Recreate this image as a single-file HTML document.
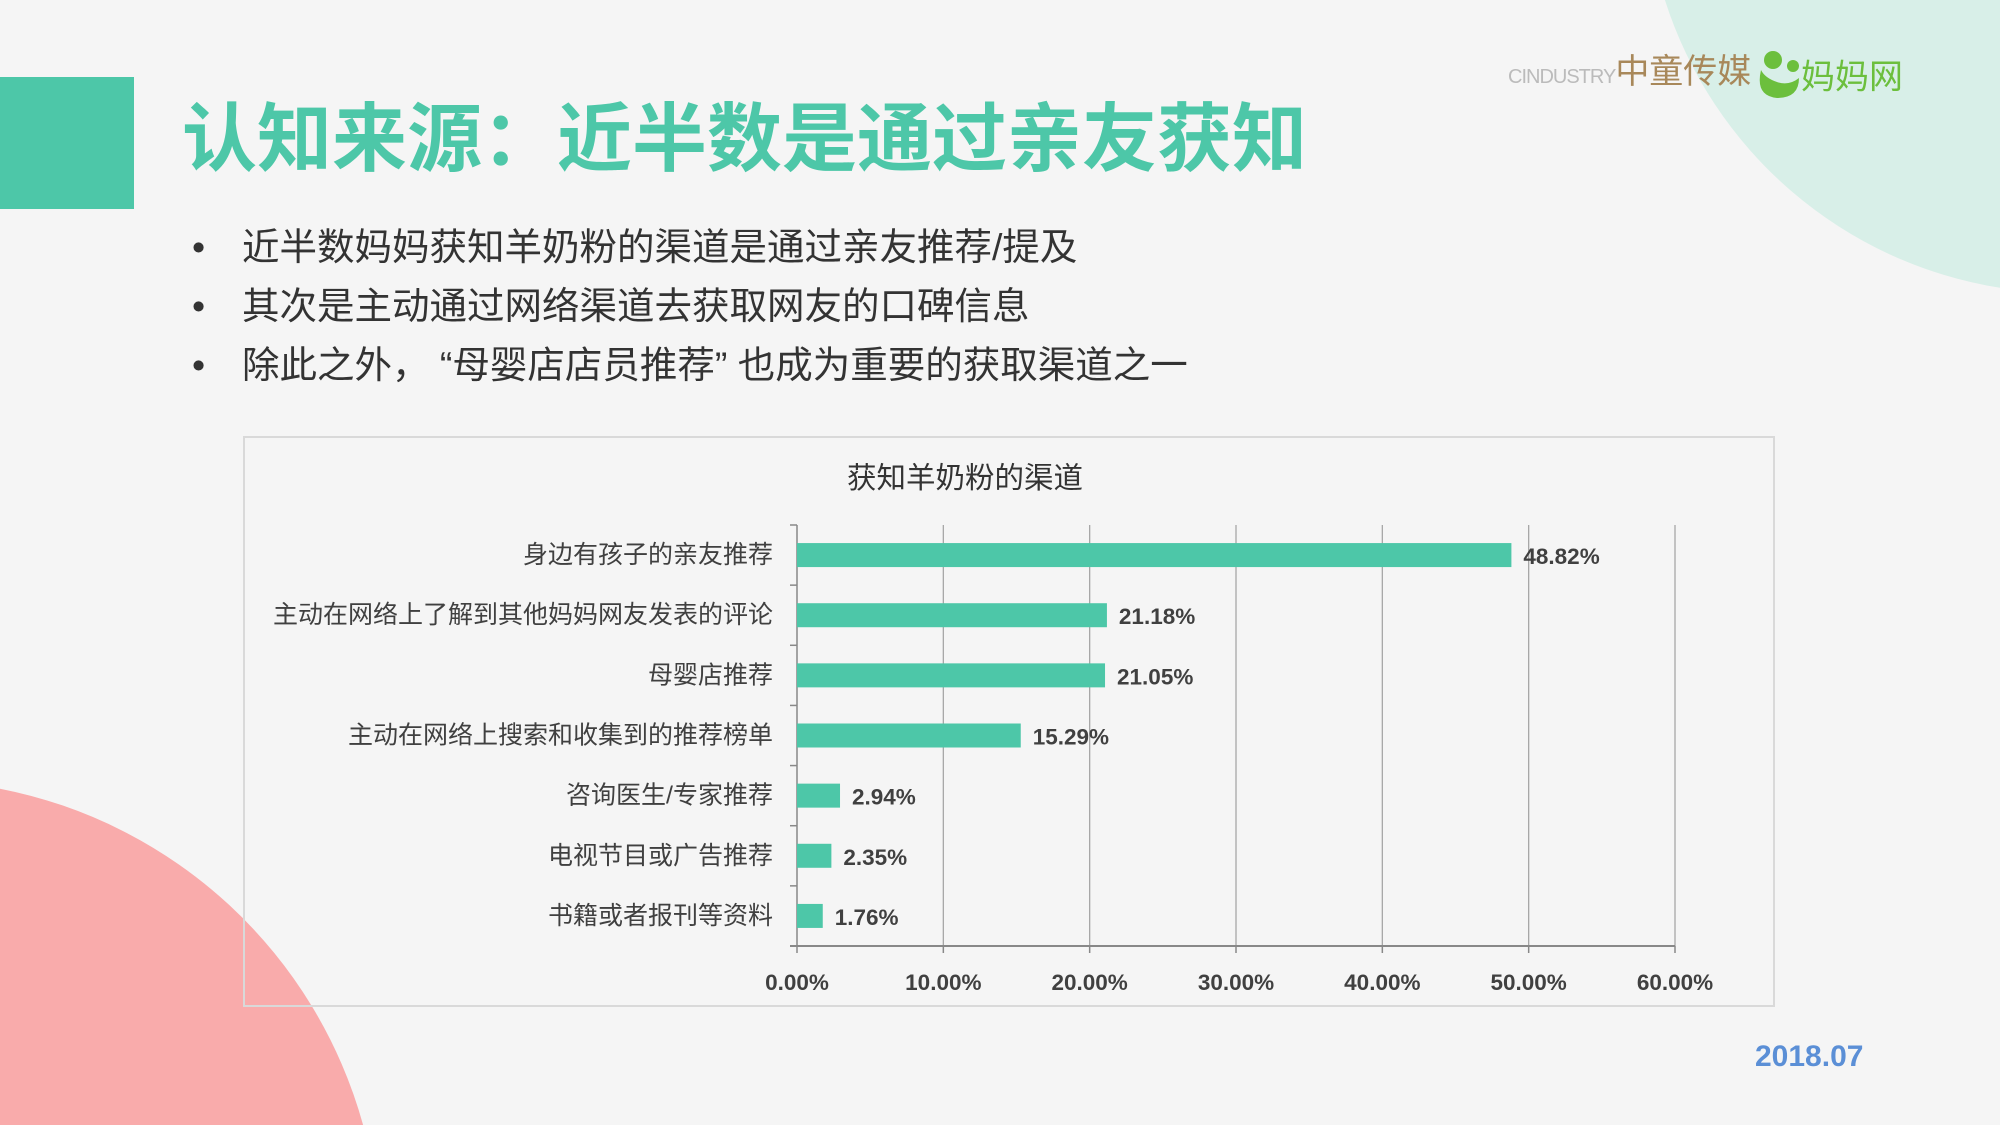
<!DOCTYPE html>
<html style="overflow:hidden;width:2000px;height:1125px;"><head><meta charset="utf-8">
<style>
html,body{margin:0;padding:0;}
body{width:2000px;height:1125px;overflow:hidden;background:#f5f5f5;position:relative;font-family:"Liberation Sans","Noto Sans CJK SC",sans-serif;}
.abs{position:absolute;}
</style></head>
<body>
<svg class="abs" style="left:0;top:0" width="2000" height="1125">
  <path d="M1664.9,0 A421,421 0 0 0 2000,287.8 L2000,0 Z" fill="#d8efe8"/>
  <path d="M0,788.7 A470,470 0 0 1 363.1,1125 L0,1125 Z" fill="#f9abab"/>
  <rect x="0" y="77" width="134" height="132" fill="#4dc7a8"/>
</svg>
<div class="abs" style="left:1508px;top:52px;font-size:34px;color:#a8885a;white-space:nowrap;line-height:40px;"><span style="font-size:20px;color:#bbb;letter-spacing:-1px">CINDUSTRY</span>中童传媒</div>
<div class="abs" style="left:1755px;top:46px;white-space:nowrap;height:56px;overflow:hidden;">
  <svg width="46" height="56" style="vertical-align:middle"><circle cx="18" cy="14" r="9" fill="#6cbf3d"/><circle cx="38" cy="20" r="6" fill="#6cbf3d"/><path d="M6 24 Q0 50 22 52 Q44 52 44 32 Q34 40 22 36 Q10 32 6 24Z" fill="#6cbf3d"/></svg><span style="font-size:34px;color:#6cbf3d;vertical-align:middle">妈妈网</span></div>
<div class="abs" style="left:182px;top:102px;font-size:75px;font-weight:bold;color:#4dc7a8;white-space:nowrap;line-height:1;">认知来源：近半数是通过亲友获知</div>
<div class="abs" style="left:192px;top:218px;font-size:37.5px;color:#333;line-height:59px;white-space:nowrap;">
  <div><span style="display:inline-block;width:50px">•</span>近半数妈妈获知羊奶粉的渠道是通过亲友推荐/提及</div>
  <div><span style="display:inline-block;width:50px">•</span>其次是主动通过网络渠道去获取网友的口碑信息</div>
  <div><span style="display:inline-block;width:50px">•</span>除此之外， “母婴店店员推荐” 也成为重要的获取渠道之一</div>
</div>
<svg id="chart" class="abs" style="left:0;top:0" width="2000" height="1125"></svg>
<div class="abs" style="left:1755px;top:1039px;font-size:30px;font-weight:bold;color:#5b8fd6;line-height:36px;">2018.07</div>
<script>
const categories=["身边有孩子的亲友推荐","主动在网络上了解到其他妈妈网友发表的评论","母婴店推荐","主动在网络上搜索和收集到的推荐榜单","咨询医生/专家推荐","电视节目或广告推荐","书籍或者报刊等资料"];
const values=[48.82,21.18,21.05,15.29,2.94,2.35,1.76];
const valueLabels=["48.82%","21.18%","21.05%","15.29%","2.94%","2.35%","1.76%"];
const ticks=[0,10,20,30,40,50,60];
const tickLabels=["0.00%","10.00%","20.00%","30.00%","40.00%","50.00%","60.00%"];
const NS="http://www.w3.org/2000/svg";
const svg=document.getElementById('chart');
const X0=797,X1=1675,Y0=525,Y1=946,XMAX=60;
const x=v=>X0+(v/XMAX)*(X1-X0);
const band=(Y1-Y0)/categories.length;
const yc=i=>Y0+band*(i+0.5);
function mk(t,a){const e=document.createElementNS(NS,t);for(const k in a)e.setAttribute(k,a[k]);svg.appendChild(e);return e;}
let box=mk('rect',{x:244,y:437,width:1530,height:569,fill:'none',stroke:'#d9d9d9','stroke-width':2});


let tt=mk('text',{x:965,y:488,'text-anchor':'middle','font-size':29.5,fill:'#333'});
tt.textContent='获知羊奶粉的渠道';


ticks.forEach((t,i)=>{
  if(t>0){let g=mk('line',{x1:x(t),x2:x(t),y1:Y0,y2:Y1,stroke:'#a6a6a6','stroke-width':1.3});
  
  }
  let tk=mk('line',{x1:x(t),x2:x(t),y1:Y1,y2:Y1+7,stroke:'#888','stroke-width':1.5});
  
  
  let l=mk('text',{x:x(t),y:990,'text-anchor':'middle','font-size':22.5,'font-weight':'bold',fill:'#404040'});
  l.textContent=tickLabels[i];
  
  
});
let ya=mk('line',{x1:X0,x2:X0,y1:Y0,y2:Y1,stroke:'#888','stroke-width':1.5});


let xa=mk('line',{x1:X0-7,x2:X1,y1:Y1,y2:Y1,stroke:'#888','stroke-width':2});


for(let i=0;i<=categories.length;i++){
  let yt=mk('line',{x1:X0-7,x2:X0,y1:Y0+band*i,y2:Y0+band*i,stroke:'#888','stroke-width':1.5});
  
  
}
categories.forEach((c,i)=>{
  let b=mk('rect',{x:X0,y:yc(i)-12,width:x(values[i])-X0,height:24,fill:'#4dc7a8'});
  
  
  let cl=mk('text',{x:773,y:yc(i)+8,'text-anchor':'end','font-size':25,fill:'#404040'});
  cl.textContent=c;
  
  
  let vl=mk('text',{x:x(values[i])+12,y:yc(i)+9,'font-size':22.5,'font-weight':'bold',fill:'#404040'});
  vl.textContent=valueLabels[i];
  
  
});
</script>
</body></html>
